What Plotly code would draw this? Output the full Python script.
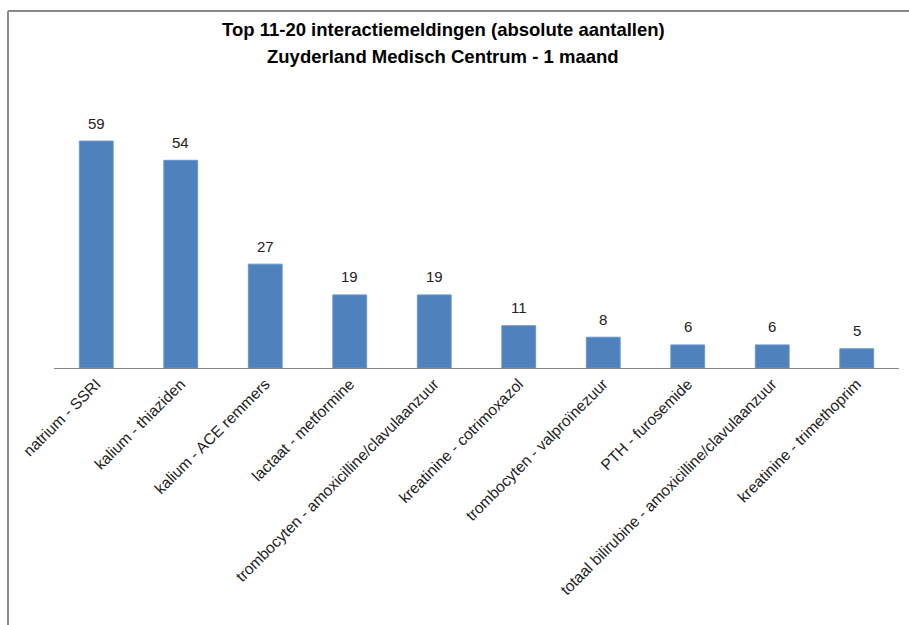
import plotly.graph_objects as go

categories = [
    "natrium - SSRI",
    "kalium - thiaziden",
    "kalium - ACE remmers",
    "lactaat - metformine",
    "trombocyten - amoxicilline/clavulaanzuur",
    "kreatinine - cotrimoxazol",
    "trombocyten - valproïnezuur",
    "PTH - furosemide",
    "totaal bilirubine - amoxicilline/clavulaanzuur",
    "kreatinine - trimethoprim",
]
counts = [59, 54, 27, 19, 19, 11, 8, 6, 6, 5]

title_lines = [
    "Top 11-20 interactiemeldingen (absolute aantallen)",
    "Zuyderland Medisch Centrum - 1 maand",
]

FONT = "Liberation Sans, Arial, sans-serif"

# helpers: figure pixels -> paper coordinates of the plot area
px_x = lambda px: (px - 54) / 845
px_y = lambda px: (368 - px) / 250

fig = go.Figure(
    go.Bar(
        x=categories,
        y=counts,
        width=0.4,
        marker=dict(color="#4F81BD", line=dict(color="#6A95CC", width=1)),
        hoverinfo="x+y",
    )
)

# value labels above each bar
annotations = [
    dict(
        x=c, y=v, xref="x", yref="y",
        text=str(v), showarrow=False,
        yanchor="middle", yshift=18,
        font=dict(family=FONT, size=15, color="#222222"),
    )
    for c, v in zip(categories, counts)
]

# two-line bold title
for i, line in enumerate(title_lines):
    annotations.append(
        dict(
            x=px_x(443), y=px_y(30 + 26 * i),
            xref="paper", yref="paper",
            text="<b>" + line + "</b>", showarrow=False,
            xanchor="center", yanchor="middle",
            font=dict(family=FONT, size=18.5, color="#000000"),
        )
    )

# containing frame (left and top edges visible)
frame = [
    dict(type="line", xref="paper", yref="paper",
         x0=px_x(8), x1=px_x(8), y0=px_y(11), y1=px_y(640),
         line=dict(color="#8a8a8a", width=2)),
    dict(type="line", xref="paper", yref="paper",
         x0=px_x(8), x1=px_x(920), y0=px_y(11), y1=px_y(11),
         line=dict(color="#8a8a8a", width=2)),
]

fig.update_layout(
    width=909,
    height=625,
    margin=dict(l=54, r=10, t=118, b=257),
    paper_bgcolor="white",
    plot_bgcolor="white",
    showlegend=False,
    font=dict(family=FONT, color="#222222"),
    xaxis=dict(
        tickangle=-45,
        tickfont=dict(size=15.5, color="#222222"),
        showline=True,
        linecolor="#888888",
        linewidth=1,
        ticks="",
        showgrid=False,
    ),
    yaxis=dict(range=[0, 65], visible=False),
    annotations=annotations,
    shapes=frame,
)

fig.write_html("out.html")
